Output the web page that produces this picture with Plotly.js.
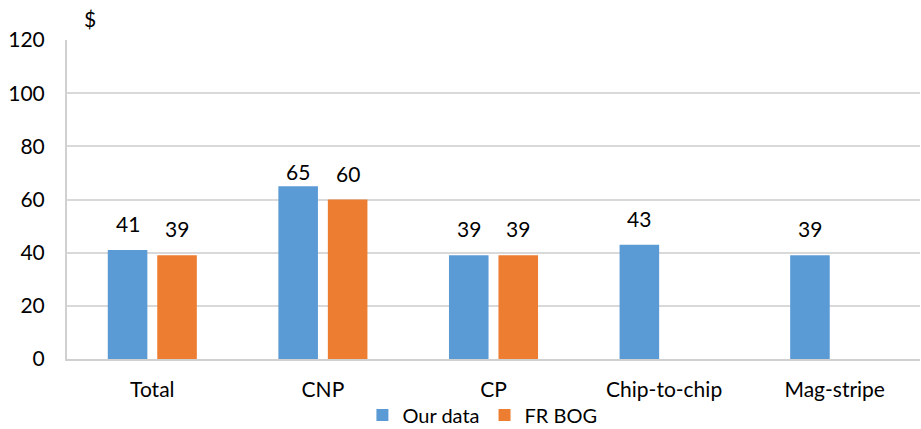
<!DOCTYPE html>
<html>
<head>
<meta charset="utf-8">
<script src="https://cdn.plot.ly/plotly-3.0.1.min.js"></script>
<style>
  html, body { margin: 0; padding: 0; background: #fff; }
  #chart { width: 921px; height: 429px; }
</style>
</head>
<body>
<div id="chart"></div>
<script>
// Average fraud loss per transaction type, $
const categories = ['Total', 'CNP', 'CP', 'Chip-to-chip', 'Mag-stripe'];
const ourData = [41, 65, 39, 43, 39];
const frBog = [39, 60, 39, null, null];
const yTicks = [0, 20, 40, 60, 80, 100, 120];

const BLUE = '#5B9BD5';
const ORANGE = '#ED7D31';
const FONT = 'Lato, "Open Sans", "Liberation Sans", sans-serif';
const FS = 21;

const M = { l: 67, r: 1, t: 40, b: 70 };
const plotW = 921 - M.l - M.r;
const plotH = 429 - M.t - M.b;
const slot = plotW / categories.length;
const barGap = 0.42;
const half = slot * (1 - barGap) / 4; // offset of each bar centre from category centre

// the tall CNP label sits closer to its bar
const labelLift = (series, cat) => (series === 0 && cat === 'CNP') ? 0 : 12;

// Value labels above each bar
const annotations = [];
categories.forEach((c, i) => {
  [[ourData[i], -half], [frBog[i], half]].forEach(([v, dx], s) => {
    if (v === null || v === undefined) return;
    annotations.push({
      x: c, y: v, xref: 'x', yref: 'y',
      text: String(v), showarrow: false,
      xanchor: 'center', yanchor: 'bottom',
      xshift: dx, yshift: labelLift(s, c),
      font: { family: FONT, size: FS, color: '#000' }
    });
  });
});
// unit label above the value axis
annotations.push({
  x: (90 - M.l) / plotW, y: (429 - M.b - 18) / plotH,
  xref: 'paper', yref: 'paper', text: '$', showarrow: false,
  xanchor: 'center', yanchor: 'middle',
  font: { family: FONT, size: FS, color: '#000' }
});

const traces = [
  { type: 'bar', name: 'Our data', x: categories, y: ourData,
    marker: { color: BLUE }, hoverinfo: 'x+y' },
  { type: 'bar', name: 'FR BOG', x: categories, y: frBog,
    marker: { color: ORANGE }, hoverinfo: 'x+y' }
];

const layout = {
  width: 921, height: 429,
  margin: { l: M.l, r: M.r, t: M.t, b: M.b, autoexpand: false },
  paper_bgcolor: '#fff', plot_bgcolor: '#fff',
  barmode: 'group', bargap: barGap, bargroupgap: 0.2,
  font: { family: FONT, size: FS, color: '#000' },
  showlegend: true,
  legend: {
    orientation: 'h', x: 0.487, xanchor: 'center',
    y: (429 - M.b - 415) / plotH, yanchor: 'middle',
    bgcolor: 'rgba(0,0,0,0)',
    font: { family: FONT, size: 20, color: '#000' },
    itemwidth: 30, traceorder: 'normal'
  },
  xaxis: {
    type: 'category', showgrid: false, zeroline: false,
    showline: true, linecolor: '#d0d0d0', linewidth: 2,
    ticks: '', ticklabelstandoff: 11,
    tickfont: { family: FONT, size: FS, color: '#000' }
  },
  yaxis: {
    range: [0, 120], tickvals: yTicks, ticktext: yTicks.map(String),
    showgrid: true, gridcolor: '#d9d9d9', gridwidth: 2,
    zeroline: false, showline: true, linecolor: '#d0d0d0', linewidth: 2,
    ticks: '', ticklabelstandoff: 16,
    tickfont: { family: FONT, size: FS, color: '#000' }
  },
  annotations: annotations
};

Plotly.newPlot('chart', traces, layout, { displayModeBar: false, staticPlot: true });
</script>
</body>
</html>
